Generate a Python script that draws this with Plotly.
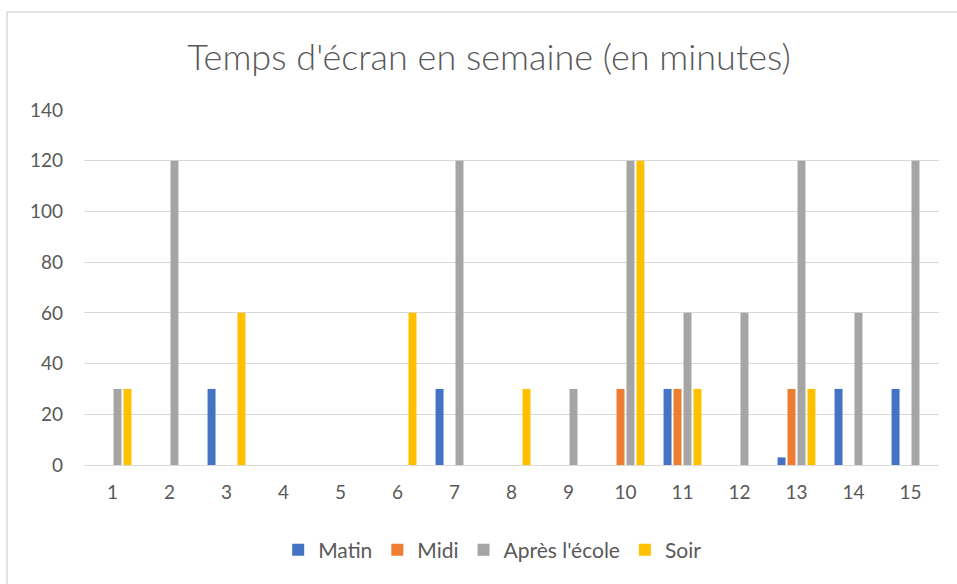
import plotly.graph_objects as go

categories = [str(i) for i in range(1, 16)]
matin = [0, 0, 30, 0, 0, 0, 30, 0, 0, 0, 30, 0, 3, 30, 30]
midi = [0, 0, 0, 0, 0, 0, 0, 0, 0, 30, 30, 0, 30, 0, 0]
apres = [30, 120, 0, 0, 0, 0, 120, 0, 30, 120, 60, 60, 120, 60, 120]
soir = [30, 0, 60, 0, 0, 60, 0, 30, 0, 120, 30, 0, 30, 0, 0]
series_names = ["Matin", "Midi", "Après l'école", "Soir"]
colors = ["#4472C4", "#ED7D31", "#A5A5A5", "#FFC000"]
yticks = [0, 20, 40, 60, 80, 100, 120, 140]

FONT = "Lato, Open Sans, sans-serif"

fig = go.Figure()
for name, vals, c in zip(series_names, [matin, midi, apres, soir], colors):
    fig.add_trace(go.Bar(x=categories, y=vals, name=name, marker=dict(color=c, line=dict(width=0))))

fig.update_layout(
    width=957, height=584,
    barmode="group", bargap=0.3, bargroupgap=0.2,
    paper_bgcolor="white", plot_bgcolor="white",
    margin=dict(l=84, r=18, t=110, b=119, autoexpand=False),
    title=dict(text="Temps d'écran en semaine (en minutes)", x=0.511, xanchor="center",
               y=0.902, yanchor="middle", automargin=False,
               font=dict(family=FONT, size=36, color="#595959", weight=300)),
    font=dict(family=FONT, color="#595959", size=19),
    xaxis=dict(type="category", showgrid=False, showline=False, ticks="", automargin=False,
               ticklabelstandoff=14, tickfont=dict(size=19, color="#595959")),
    yaxis=dict(range=[0, 140], tickvals=yticks, showgrid=True, gridcolor="#D9D9D9", gridwidth=1.3,
               zeroline=True, zerolinecolor="#D9D9D9", zerolinewidth=1.3, showline=False,
               automargin=False, ticklabelstandoff=20, tickfont=dict(size=19, color="#595959")),
    legend=dict(orientation="h", x=0.478, xanchor="center", y=-0.24, yanchor="middle",
                bgcolor="rgba(0,0,0,0)",
                font=dict(size=21, color="#595959"), itemwidth=30, traceorder="normal"),
    shapes=[dict(type="rect", xref="paper", yref="paper", x0=-0.09, x1=1.05, y0=-0.5, y1=1.276,
                 line=dict(color="#D9D9D9", width=1.5), fillcolor="rgba(0,0,0,0)", layer="below")],
)

fig.write_html("out.html", config={"displayModeBar": False},
               post_script="document.body.style.margin='0';")
